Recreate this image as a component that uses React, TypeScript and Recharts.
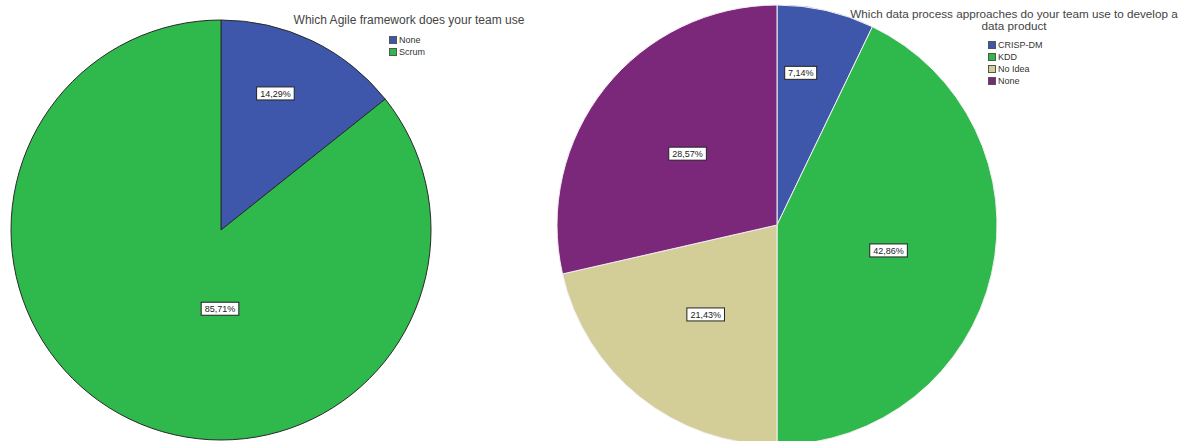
import { PieChart, Pie, Cell } from "recharts";

const agileLabels = ["None", "Scrum"];
const agileValues = [14.29, 85.71];
const agileColors = ["#3f57ab", "#2fb84c"];

const processLabels = ["CRISP-DM", "KDD", "No Idea", "None"];
const processValues = [7.14, 42.86, 21.43, 28.57];
const processColors = ["#3f57ab", "#2fb84c", "#d3cd97", "#7b287b"];

const agileData = agileLabels.map((name, i) => ({ name, value: agileValues[i] }));
const processData = processLabels.map((name, i) => ({ name, value: processValues[i] }));

const RAD = Math.PI / 180;
const font = "Arial, 'Liberation Sans', sans-serif";

// spss-ish label placement: small slices further out, big slice pulled toward the bottom
const BoxLabel = (props: any) => {
  const { cx, cy, midAngle, outerRadius, percent, value } = props;
  let f = 0.52;
  let a = midAngle;
  if (percent < 0.15) {
    f = 0.7;
    a = midAngle + 4;
  } else if (percent > 0.6) {
    f = 0.375;
    a = midAngle + 25;
  }
  const r = outerRadius * f;
  const x = cx + r * Math.cos(-a * RAD);
  const y = cy + r * Math.sin(-a * RAD);
  const text = value.toFixed(2).replace(".", ",") + "%";
  const w = text.length * 5.6 + 4;
  return (
    <g>
      <rect x={x - w / 2} y={y - 6.5} width={w} height={13} fill="#fff" stroke="#222" strokeWidth={1} />
      <text x={x} y={y + 3.5} textAnchor="middle" fontSize={9} fontFamily={font} fill="#222">
        {text}
      </text>
    </g>
  );
};

function Legend({ labels, colors, left, top }: { labels: string[]; colors: string[]; left: number; top: number }) {
  return (
    <div style={{ position: "absolute", left, top, fontFamily: font, fontSize: 9, color: "#333", lineHeight: "12px" }}>
      {labels.map((l, i) => (
        <div key={l} style={{ display: "flex", alignItems: "center" }}>
          <span style={{ display: "inline-block", width: 8, height: 8, background: colors[i], border: "1px solid #555", marginRight: 2, boxSizing: "border-box" }} />
          {l}
        </div>
      ))}
    </div>
  );
}

export default function App() {
  return (
    <div style={{ position: "fixed", left: 0, top: 0, width: 1184, height: 441, background: "#fff", overflow: "hidden" }}>
      <PieChart width={1184} height={441} margin={{ top: 0, right: 0, bottom: 0, left: 0 }}>
        <Pie
          data={agileData}
          dataKey="value"
          cx={221}
          cy={230}
          outerRadius={210}
          startAngle={90}
          endAngle={-270}
          stroke="#2a2a2a"
          strokeWidth={1}
          label={BoxLabel}
          labelLine={false}
          isAnimationActive={false}
        >
          {agileData.map((d, i) => (
            <Cell key={d.name} fill={agileColors[i]} />
          ))}
        </Pie>
        <Pie
          data={processData}
          dataKey="value"
          cx={777}
          cy={225}
          outerRadius={220}
          startAngle={90}
          endAngle={-270}
          stroke="#f2eef2"
          strokeWidth={1}
          label={BoxLabel}
          labelLine={false}
          isAnimationActive={false}
        >
          {processData.map((d, i) => (
            <Cell key={d.name} fill={processColors[i]} />
          ))}
        </Pie>
      </PieChart>
      <div style={{ position: "absolute", left: 259, top: 13, width: 300, textAlign: "center", fontFamily: font, fontSize: 12, color: "#444" }}>
        Which Agile framework does your team use
      </div>
      <Legend labels={agileLabels} colors={agileColors} left={389} top={34} />
      <div style={{ position: "absolute", left: 829, top: 8, width: 370, textAlign: "center", fontFamily: font, fontSize: 11.7, color: "#444", lineHeight: "12px" }}>
        Which data process approaches do your team use to develop a<br />data product
      </div>
      <Legend labels={processLabels} colors={processColors} left={988} top={39} />
    </div>
  );
}
